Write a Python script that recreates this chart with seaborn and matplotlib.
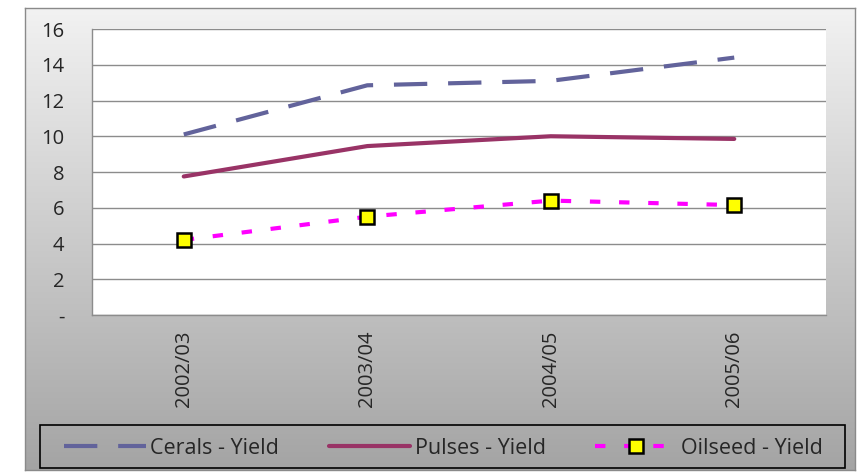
import numpy as np
import pandas as pd
import seaborn as sns
import matplotlib.pyplot as plt
from matplotlib.patches import Rectangle
from matplotlib.colors import LinearSegmentedColormap

years = ['2002/03', '2003/04', '2004/05', '2005/06']
cereals = [10.1, 12.85, 13.1, 14.4]
pulses = [7.75, 9.45, 10.0, 9.85]
oilseed = [4.2, 5.5, 6.4, 6.15]

df = pd.DataFrame({'year': years, 'cereals': cereals,
                   'pulses': pulses, 'oilseed': oilseed})

sns.set_style('white')
plt.rcParams['font.family'] = ['Open Sans', 'DejaVu Sans']

fig = plt.figure(figsize=(8.63, 4.73), dpi=100)
fig.patch.set_facecolor('white')

# gradient backdrop of the chart area
bg = fig.add_axes([25/863, 3/473, 830/863, 462/473])
grad = np.linspace(0, 1, 256).reshape(-1, 1)
bg.imshow(grad, aspect='auto', extent=[0, 1, 0, 1], origin='upper',
          cmap=LinearSegmentedColormap.from_list('g', ['#f2f2f2', '#a4a4a4']))
bg.set_xticks([])
bg.set_yticks([])
for s in bg.spines.values():
    s.set_color('#8a8a8a')
    s.set_linewidth(1)

ax = fig.add_axes([92/863, 1-315/473, 734/863, 286/473])
ax.set_facecolor('white')

sns.lineplot(data=df, x='year', y='cereals', ax=ax, color='#62639b',
             linewidth=3, label='Cerals - Yield')
ax.lines[-1].set_dashes((8, 5))
sns.lineplot(data=df, x='year', y='pulses', ax=ax, color='#993366',
             linewidth=3, label='Pulses - Yield')
sns.lineplot(data=df, x='year', y='oilseed', ax=ax, color='#ff00ff',
             linewidth=3, marker='s', markersize=9.5,
             markerfacecolor='#ffff00', markeredgecolor='black',
             markeredgewidth=1.8, label='Oilseed - Yield')
ax.lines[-1].set_dashes((2.5, 4.5))

ax.set_xlim(-0.5, 3.5)
ax.set_ylim(0, 16)
ax.set_yticks(range(0, 17, 2))
ax.set_yticklabels(['-'] + [str(v) for v in range(2, 17, 2)], fontsize=14.5)
ax.tick_params(axis='y', length=0, pad=20)
ax.tick_params(axis='x', length=0, pad=11, labelrotation=90, labelsize=14.5)
ax.set_xlabel('')
ax.set_ylabel('')
ax.yaxis.grid(True, color='#8c8c8c', linewidth=1)
ax.set_axisbelow(True)
for side in ['top', 'right']:
    ax.spines[side].set_visible(False)
for side in ['left', 'bottom']:
    ax.spines[side].set_color('#8c8c8c')
    ax.spines[side].set_linewidth(1)

handles, labels = ax.get_legend_handles_labels()
ax.get_legend().remove()

# legend box
fig.add_artist(Rectangle((40/863, 1-468/473), 805/863, 43/473,
                         transform=fig.transFigure, facecolor='none',
                         edgecolor='black', linewidth=1.2))
leg = fig.legend(handles, labels, loc='center left', ncol=3,
                 bbox_to_anchor=(64/863, 1-448/473),
                 frameon=False, handlelength=3.8, handletextpad=0.2,
                 columnspacing=2.3, fontsize=15.5, borderpad=0,
                 borderaxespad=0)

fig.savefig('out.png', dpi=100)
